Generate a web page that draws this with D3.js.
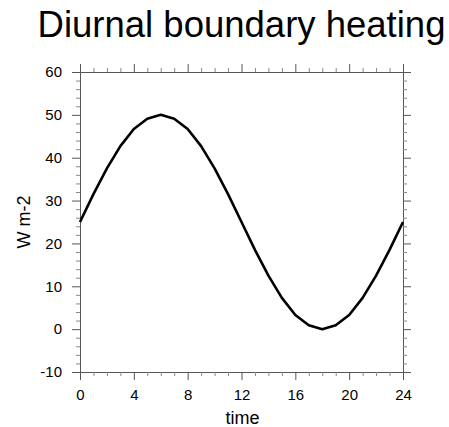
<!DOCTYPE html>
<html>
<head>
<meta charset="utf-8">
<script src="https://d3js.org/d3.v7.min.js"></script>
<style>
  body { margin: 0; background: #fff; }
  svg text { font-family: "Liberation Sans", Arial, Helvetica, sans-serif; fill: #000; }
</style>
</head>
<body>
<svg id="chart" width="449" height="427"></svg>
<script>
// hourly values
const hours = [0, 1, 2, 3, 4, 5, 6, 7, 8, 9, 10, 11, 12, 13, 14, 15, 16, 17, 18, 19, 20, 21, 22, 23, 24];
const heating = [25, 31.5, 37.5, 42.7, 46.7, 49.1, 50, 49.1, 46.7, 42.7, 37.5, 31.5, 25,
                 18.5, 12.5, 7.3, 3.3, 0.9, 0, 0.9, 3.3, 7.3, 12.5, 18.5, 25];
const xTicks = [0, 4, 8, 12, 16, 20, 24];
const yTicks = [-10, 0, 10, 20, 30, 40, 50, 60];

const svg = d3.select("#chart");
const plotLeft = 80, plotRight = 403, plotTop = 72, plotBottom = 372;

const x = d3.scaleLinear().domain([0, 24]).range([plotLeft, plotRight]);
const y = d3.scaleLinear().domain([-10, 60]).range([plotBottom, plotTop]);

const xMinor = d3.range(0, 25, 1).filter(d => d % 4 !== 0);
const yMinor = d3.range(-10, 61, 2).filter(d => d % 10 !== 0);

function axis(gen, pos, major, minor, showLabels, pad) {
  const g = svg.append("g").attr("transform", pos);
  g.call(gen.tickValues(major).tickSize(8).tickPadding(pad)
    .tickFormat(showLabels ? (d => String(d)) : ""));
  g.attr("font-family", null);
  g.select(".domain").attr("stroke", "#555");
  g.selectAll(".tick line").attr("stroke", "#555");
  g.selectAll(".tick text").style("font-size", "15px").attr("fill", "#000");
  const gm = svg.append("g").attr("transform", pos);
  gm.call(gen.tickValues(minor).tickSize(4).tickFormat(""));
  gm.select(".domain").remove();
  gm.selectAll(".tick line").attr("stroke", "#888");
  return g;
}

axis(d3.axisBottom(x), `translate(0,${plotBottom})`, xTicks, xMinor, true, 9);
axis(d3.axisTop(x), `translate(0,${plotTop})`, xTicks, xMinor, false, 3);
axis(d3.axisLeft(y), `translate(${plotLeft},0)`, yTicks, yMinor, true, 10);
axis(d3.axisRight(y), `translate(${plotRight},0)`, yTicks, yMinor, false, 3);

const line = d3.line().x((d, i) => x(hours[i])).y(d => y(d));
svg.append("path")
  .datum(heating)
  .attr("d", line)
  .attr("fill", "none")
  .attr("stroke", "#000")
  .attr("stroke-width", 2.6)
  .attr("stroke-linejoin", "round");

svg.append("text")
  .attr("x", (plotLeft + plotRight) / 2)
  .attr("y", 37)
  .attr("text-anchor", "middle")
  .style("font-size", "36.5px")
  .text("Diurnal boundary heating");

svg.append("text")
  .attr("x", (plotLeft + plotRight) / 2 + 1)
  .attr("y", 424)
  .attr("text-anchor", "middle")
  .style("font-size", "18px")
  .text("time");

svg.append("text")
  .attr("transform", `translate(30,${(plotTop + plotBottom) / 2}) rotate(-90)`)
  .attr("text-anchor", "middle")
  .style("font-size", "18px")
  .text("W m-2");
</script>
</body>
</html>
